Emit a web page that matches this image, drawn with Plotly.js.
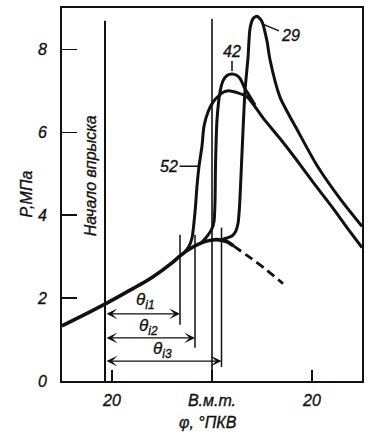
<!DOCTYPE html>
<html><head><meta charset="utf-8">
<script src="https://cdn.plot.ly/plotly-3.0.1.min.js"></script>
<style>html,body{margin:0;padding:0;background:#fff}
#chart svg text{stroke:#111;stroke-width:0.35px}</style>
</head><body><div id="chart" style="width:380px;height:448px"></div>
<script>
// crank angle (deg relative to TDC) and cylinder pressure (MPa)
const baseX = [-30, -26, -21.8, -17, -12, -8, -6.4, -4, -2, 0, 1, 3, 4.3];
const baseP = [1.33, 1.57, 1.83, 2.15, 2.5, 2.85, 3.02, 3.22, 3.34, 3.4, 3.41, 3.36, 3.26];
const motorX = [4.3, 7, 9.2, 11, 14.2];
const motorP = [3.26, 3.03, 2.84, 2.67, 2.35];

const c52X = [-6.4, -5.4, -4.6, -4, -3.4, -3.0, -2.6, -2.0, -1.6, -0.8, 0.2, 1.5, 2.5, 3.6, 5, 7, 10.2, 13.6, 17, 20.5, 24, 27, 30];
const c52P = [3.02, 3.12, 3.25, 3.45, 4.07, 4.7, 5.18, 5.67, 6.15, 6.49, 6.73, 6.9, 6.98, 7.0, 6.96, 6.86, 6.35, 5.85, 5.32, 4.75, 4.2, 3.7, 3.22];

const c42X = [-2.5, -1.8, -0.8, 0.0, 0.4, 0.6, 0.7, 1.0, 1.6, 2.2, 3, 4, 5, 5.6, 6.6, 7.4, 8.6];
const c42P = [3.3, 3.38, 3.52, 3.68, 3.85, 4.3, 5.2, 6.3, 6.97, 7.24, 7.37, 7.41, 7.37, 7.3, 7.05, 6.9, 6.66];

const c29X = [2, 3, 4, 4.7, 5.2, 5.5, 6.0, 6.6, 7.2, 7.6, 8.2, 9, 10, 11, 11.6, 13.6, 17, 21, 25.6, 30];
const c29P = [3.41, 3.45, 3.5, 3.6, 3.8, 4.2, 5.5, 7.0, 7.8, 8.5, 8.74, 8.8, 8.67, 8.2, 7.75, 6.85, 6.07, 5.2, 4.4, 3.73];

const curveLabels = ['52', '42', '29'];
const xTickVals = [-20, 0, 20];
const xTickText = ['20', 'В.м.т.', '20'];
const yTickVals = [0, 2, 4, 6, 8];

const injAngle = -21.4;
const tdcAngle = 0;
const ignAngles = [-6.4, -3.4, 1.9];
const ignNames = ['θ<sub>i1</sub>', 'θ<sub>i2</sub>', 'θ<sub>i3</sub>'];
const ignTop = [3.53, 3.53, 3.7];
const ignBottom = [1.36, 0.8, 0.34];
const arrowP = [1.62, 1.04, 0.48];
const ignLabelX = [-13.4, -12.8, -10];
const ignLabelP = [1.93, 1.3, 0.74];

const K = '#111';
const FONT = 'Liberation Sans, Arial, sans-serif';

const line = (x, y, w, dash) => ({x, y, type: 'scatter', mode: 'lines', hoverinfo: 'skip',
  line: {color: K, width: w, shape: 'spline', smoothing: 0.7, dash: dash || 'solid'}});

const data = [
  line(baseX, baseP, 3.6),
  line(motorX, motorP, 2.8, '9px,5px'),
  line(c52X, c52P, 3),
  line(c42X, c42P, 3),
  line(c29X, c29P, 3)
];

const shapes = [];
shapes.push({type: 'line', xref: 'x', yref: 'y', x0: injAngle, x1: injAngle, y0: 0, y1: 8.69, line: {color: K, width: 2}});
shapes.push({type: 'line', xref: 'x', yref: 'y', x0: tdcAngle, x1: tdcAngle, y0: 0, y1: 8.74, line: {color: K, width: 1.6}});
ignAngles.forEach((a, i) => shapes.push({type: 'line', xref: 'x', yref: 'y', x0: a, x1: a, y0: ignBottom[i], y1: ignTop[i], line: {color: K, width: 1.5}}));

const annotations = [];
ignAngles.forEach((a, i) => {
  annotations.push({x: a, y: arrowP[i], ax: injAngle, ay: arrowP[i], xref: 'x', yref: 'y', axref: 'x', ayref: 'y',
    text: '', showarrow: true, arrowside: 'end+start', arrowhead: 3, arrowsize: 1.4, arrowwidth: 1.3, arrowcolor: K});
  annotations.push({x: ignLabelX[i], y: ignLabelP[i], xref: 'x', yref: 'y', text: '<i>' + ignNames[i] + '</i>',
    showarrow: false, font: {family: FONT, size: 17, color: K}});
});
// curve labels with leaders
annotations.push({x: -2.6, y: 5.18, xref: 'x', yref: 'y', text: '<i>' + curveLabels[0] + '</i>', showarrow: true,
  arrowhead: 0, arrowwidth: 1.5, arrowcolor: K, ax: -30, ay: 0, font: {family: FONT, size: 16, color: K}});
annotations.push({x: 4, y: 7.48, xref: 'x', yref: 'y', text: '<i>' + curveLabels[1] + '</i>', showarrow: true,
  arrowhead: 0, arrowwidth: 1.5, arrowcolor: K, ax: 0, ay: -20, font: {family: FONT, size: 16, color: K}});
annotations.push({x: 10.4, y: 8.6, xref: 'x', yref: 'y', text: '<i>' + curveLabels[2] + '</i>', showarrow: true,
  arrowhead: 0, arrowwidth: 1.5, arrowcolor: K, ax: 26, ay: 11, font: {family: FONT, size: 16, color: K}});
// injection start label
annotations.push({x: -24.4, y: 4.94, xref: 'x', yref: 'y', text: '<i>Начало впрыска</i>', textangle: -90,
  showarrow: false, font: {family: FONT, size: 16, color: K}});
// axis titles
annotations.push({x: -36 / 300, y: 0.5, xref: 'paper', yref: 'paper', text: '<i>P,МПа</i>', textangle: -90,
  showarrow: false, xanchor: 'center', yanchor: 'middle', font: {family: FONT, size: 16, color: K}});
annotations.push({x: -0.8, y: -41 / 373, xref: 'x', yref: 'paper', text: '<i>φ, °ПКВ</i>',
  showarrow: false, xanchor: 'center', yanchor: 'middle', font: {family: FONT, size: 16, color: K}});

const layout = {
  width: 380, height: 448,
  margin: {l: 62, r: 18, t: 8, b: 67},
  paper_bgcolor: '#fff', plot_bgcolor: '#fff',
  showlegend: false,
  xaxis: {range: [-30, 30], tickvals: xTickVals, ticktext: xTickText, ticks: 'inside', ticklen: 11, tickwidth: 1.5,
    tickcolor: K, showgrid: false, zeroline: false, showline: true, mirror: true, linewidth: 2, linecolor: K,
    tickfont: {family: FONT, size: 16, color: K, style: 'italic'}, ticklabelstandoff: 4, fixedrange: true},
  yaxis: {range: [0, 9.0], tickvals: yTickVals, ticks: 'inside', ticklen: 15, tickwidth: 1.5,
    tickcolor: K, showgrid: false, zeroline: false, showline: true, mirror: true, linewidth: 2, linecolor: K,
    tickfont: {family: FONT, size: 16, color: K, style: 'italic'}, ticklabelstandoff: 10, fixedrange: true},
  shapes, annotations
};

Plotly.newPlot('chart', data, layout, {staticPlot: true, displayModeBar: false});
</script></body></html>
